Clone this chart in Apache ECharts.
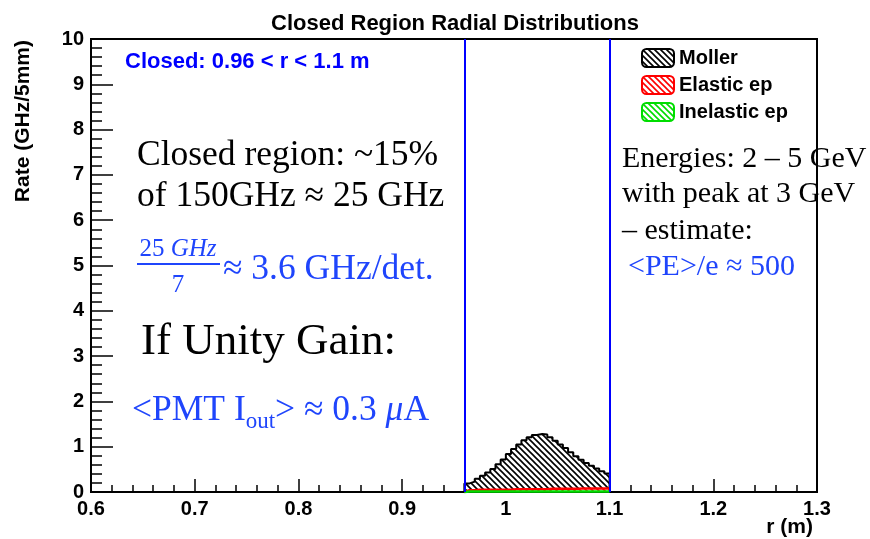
<!DOCTYPE html>
<html><head><meta charset="utf-8">
<script src="https://cdn.jsdelivr.net/npm/echarts@6/dist/echarts.min.js"></script>
<style>html,body{margin:0;padding:0;background:#fff}#chart{width:870px;height:539px}</style>
</head><body><div id="chart"></div>
<script>
// ---- data ----
const binEdges = [0.960,0.965,0.970,0.975,0.980,0.985,0.990,0.995,1.000,1.005,1.010,1.015,1.020,1.025,1.030,1.035,1.040,1.045,1.050,1.055,1.060,1.065,1.070,1.075,1.080,1.085,1.090,1.095,1.100];
const mollerRate = [0.19,0.23,0.29,0.36,0.43,0.51,0.61,0.72,0.84,0.95,1.05,1.14,1.21,1.26,1.28,1.27,1.21,1.13,1.05,0.97,0.88,0.79,0.71,0.64,0.58,0.52,0.46,0.41];
const elasticRate = [0.04,0.04,0.05,0.05,0.05,0.05,0.05,0.05,0.05,0.06,0.06,0.06,0.06,0.06,0.06,0.06,0.07,0.07,0.07,0.07,0.07,0.07,0.08,0.08,0.08,0.08,0.08,0.08];
const inelasticRate = [0.01,0.01,0.01,0.01,0.01,0.01,0.01,0.01,0.01,0.01,0.01,0.01,0.01,0.01,0.01,0.01,0.01,0.01,0.01,0.01,0.01,0.01,0.01,0.01,0.01,0.01,0.01,0.01];
const seriesNames = ['Moller','Elastic ep','Inelastic ep'];
const cutEdges = [0.96, 1.1];
const xRange = {min:0.6, max:1.3, step:0.1};
const yRange = {min:0, max:10, step:1};

// ---- helpers ----
function stepData(vals){
  const n = vals.length;
  const d = [[binEdges[0], 0]];
  vals.forEach((v,i)=>d.push([binEdges[i], v]));
  d.push([binEdges[n], vals[n-1]]);
  d.push([binEdges[n], 0]);
  return d;
}
function hatch(color){
  const c = document.createElement('canvas'); c.width = 6; c.height = 6;
  const g = c.getContext('2d');
  g.fillStyle = '#fff'; g.fillRect(0,0,6,6);
  g.strokeStyle = color; g.lineWidth = 1.6;
  g.beginPath();
  g.moveTo(-1,-1); g.lineTo(7,7);
  g.moveTo(-1,5); g.lineTo(1,7);
  g.moveTo(5,-1); g.lineTo(7,1);
  g.stroke();
  return {image:c, repeat:'repeat'};
}
const mctx = document.createElement('canvas').getContext('2d');
function tw(t, font){ mctx.font = font; return mctx.measureText(t).width; }

const blue = '#1f45fc';
const serif = '"Liberation Serif", "DejaVu Serif", serif';
const sans = '"Liberation Sans", Arial, sans-serif';
function T(x, y, text, size, color, o){
  o = o || {};
  const font = (o.italic?'italic ':'') + (o.bold?'bold ':'') + size + 'px ' + (o.family || serif);
  return {type:'text', x:x, y:y, z:100, silent:true, rotation:o.rot||0,
    style:{text:text, font:font, fill:color, textAlign:o.align||'left', textVerticalAlign:'middle'}};
}

const colors = ['#000000','#ff0000','#00dd00'];
const rates = [mollerRate, elasticRate, inelasticRate];

// ---- annotations ----
const big = 35.5;
const gfx = [];
gfx.push(T(23, 40, 'Rate (GHz/5mm)', 21, '#000', {bold:true, family:sans, align:'right', rot:Math.PI/2}));
gfx.push(T(813, 527, 'r (m)', 21, '#000', {bold:true, family:sans, align:'right'}));
gfx.push(T(125, 62, 'Closed: 0.96 < r < 1.1 m', 22, '#0000ff', {bold:true, family:sans}));
gfx.push(T(137, 155.5, 'Closed region: ~15%', big, '#000'));
gfx.push(T(137, 197, 'of 150GHz \u2248 25 GHz', big, '#000'));
// fraction
{
  const f1 = '25px ' + serif, f2 = 'italic 25px ' + serif;
  const wa = tw('25 ', f1), wb = tw('GHz', f2);
  const x0 = 178 - (wa+wb)/2;
  gfx.push(T(x0, 249.5, '25 ', 25, blue));
  gfx.push(T(x0+wa, 249.5, 'GHz', 25, blue, {italic:true}));
  gfx.push({type:'line', z:100, silent:true, shape:{x1:137, y1:264, x2:220, y2:264}, style:{stroke:blue, lineWidth:2}});
  gfx.push(T(178, 285.5, '7', 25, blue, {align:'center'}));
}
gfx.push(T(223, 269.5, '\u2248 3.6 GHz/det.', big, blue));
gfx.push(T(141, 342.5, 'If Unity Gain:', 45, '#000'));
{
  const fb = big + 'px ' + serif, f22 = '23px ' + serif, fi = 'italic ' + big + 'px ' + serif;
  let x = 132;
  gfx.push(T(x, 411, '<PMT I', big, blue)); x += tw('<PMT I', fb);
  gfx.push(T(x, 422, 'out', 23, blue)); x += tw('out', f22);
  gfx.push(T(x, 411, '> \u2248 0.3 ', big, blue)); x += tw('> \u2248 0.3 ', fb);
  gfx.push(T(x, 411, '\u03bc', big, blue, {italic:true})); x += tw('\u03bc', fi);
  gfx.push(T(x, 411, 'A', big, blue));
}
gfx.push(T(622, 158.8, 'Energies: 2 \u2013 5 GeV', 30, '#000'));
gfx.push(T(622, 193.8, 'with peak at 3 GeV', 30, '#000'));
gfx.push(T(622, 230.8, '\u2013 estimate:', 30, '#000'));
gfx.push(T(628, 266.8, '<PE>/e \u2248 500', 30, blue));

// ---- chart ----
const chart = echarts.init(document.getElementById('chart'), null, {renderer:'canvas'});
const tickLabel = {fontSize:20, fontWeight:'bold', fontFamily:sans, color:'#000'};
chart.setOption({
  animation:false,
  backgroundColor:'#fff',
  title:{text:'Closed Region Radial Distributions', left:450, textAlign:'center', top:8,
    textStyle:{fontSize:22, fontWeight:'bold', fontFamily:sans, color:'#000'}},
  grid:{left:91, right:53, top:39, bottom:47, show:true, borderColor:'#000', borderWidth:2, containLabel:false},
  legend:{show:true, orient:'vertical', left:641, top:48, padding:0, itemGap:7, itemWidth:32, itemHeight:18,
    icon:'roundRect', selectedMode:false,
    textStyle:{fontSize:20, fontWeight:'bold', fontFamily:sans, color:'#000'},
    data: seriesNames.map((n,i)=>({name:n, icon:'roundRect',
      itemStyle:{color:hatch(colors[i]), borderColor:colors[i], borderWidth:2, opacity:1}}))},
  xAxis:{type:'value', min:xRange.min, max:xRange.max, interval:xRange.step,
    axisLine:{show:true, onZero:false, lineStyle:{color:'#000', width:2}},
    axisTick:{show:true, inside:true, length:13, lineStyle:{color:'#000', width:1.5}},
    minorTick:{show:true, splitNumber:5, length:7, lineStyle:{color:'#000', width:1.5}},
    axisLabel:Object.assign({margin:7, formatter:v=>String(+v.toFixed(1))}, tickLabel),
    splitLine:{show:false}},
  yAxis:{type:'value', min:yRange.min, max:yRange.max, interval:yRange.step,
    axisLine:{show:true, onZero:false, lineStyle:{color:'#000', width:2}},
    axisTick:{show:true, inside:true, length:22, lineStyle:{color:'#000', width:1.5}},
    minorTick:{show:true, splitNumber:5, length:11, lineStyle:{color:'#000', width:1.5}},
    axisLabel:Object.assign({margin:7}, tickLabel),
    splitLine:{show:false}},
  series: seriesNames.map((n,i)=>{
    const s = {name:n, type:'line', step:'end', data:stepData(rates[i]), symbol:'none', showSymbol:false,
      clip:false, z:2+i, color:colors[i],
      lineStyle:{color:colors[i], width:i===0?2:2.5},
      areaStyle:{color:hatch(colors[i]), opacity:1},
      itemStyle:{color:colors[i]}};
    if(i===2){
      s.markLine = {silent:true, symbol:['none','none'], label:{show:false}, animation:false,
        lineStyle:{color:'#0000ff', width:2, type:'solid'},
        data: cutEdges.map(v=>({xAxis:v}))};
    }
    return s;
  }),
  graphic: gfx
});
</script>
</body></html>
